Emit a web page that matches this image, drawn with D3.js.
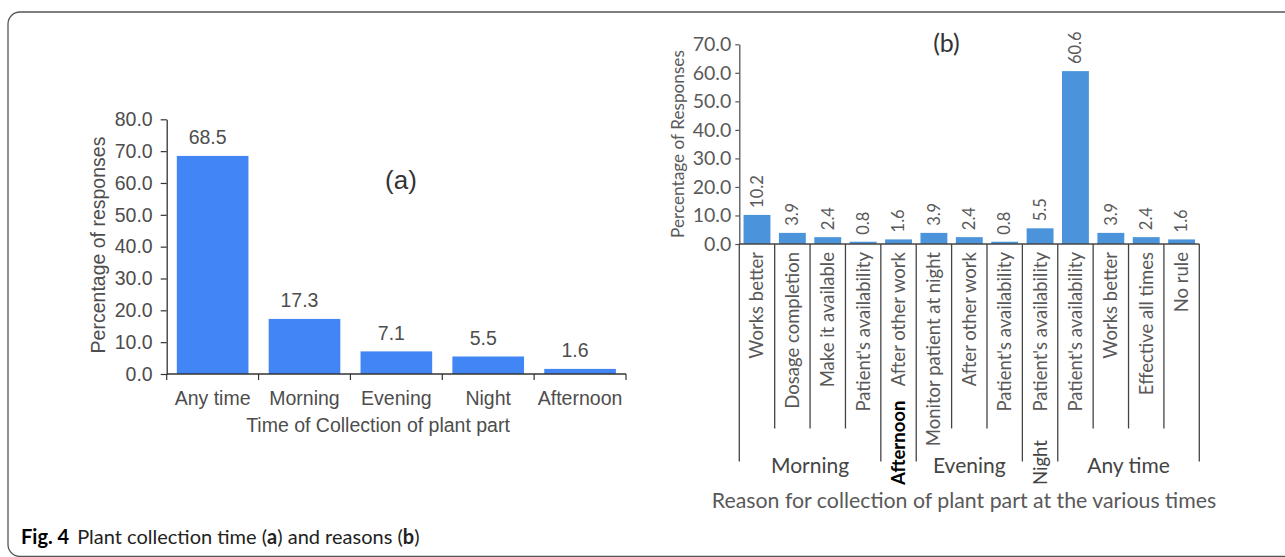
<!DOCTYPE html>
<html>
<head>
<meta charset="utf-8">
<script src="https://cdn.jsdelivr.net/npm/d3@7"></script>
<style>
  html, body { margin: 0; padding: 0; background: #fff; }
  svg { display: block; }
</style>
</head>
<body>
<svg id="chart" width="1285" height="557"></svg>
<script>
// ---------- Data: panel (a) ----------
const timeCategories = ["Any time", "Morning", "Evening", "Night", "Afternoon"];
const timeValues = [68.5, 17.3, 7.1, 5.5, 1.6];
const timeTicks = [0, 10, 20, 30, 40, 50, 60, 70, 80];

// ---------- Data: panel (b) ----------
const reasonLabels = ["Works better", "Dosage completion", "Make it available", "Patient's availability",
  "After other work", "Monitor patient at night", "After other work", "Patient's availability",
  "Patient's availability", "Patient's availability", "Works better", "Effective all times", "No rule"];
const reasonGroups = ["Morning", "Morning", "Morning", "Morning", "Afternoon", "Evening", "Evening", "Evening",
  "Night", "Any time", "Any time", "Any time", "Any time"];
const reasonValues = [10.2, 3.9, 2.4, 0.8, 1.6, 3.9, 2.4, 0.8, 5.5, 60.6, 3.9, 2.4, 1.6];
const reasonTicks = [0, 10, 20, 30, 40, 50, 60, 70];

const svg = d3.select("#chart");

// Frame
svg.append("rect")
  .attr("x", 8).attr("y", 12).attr("width", 1300).attr("height", 544.5)
  .attr("rx", 12).attr("ry", 12)
  .attr("fill", "none").attr("stroke", "#555").attr("stroke-width", 1.3);

// ================= Panel (a) =================
const fA = "'Liberation Sans', Arial, sans-serif";
const colA = "#4d4d4d";
const xA = d3.scaleBand().domain(timeCategories).range([166.7, 626]).paddingInner(0.22).paddingOuter(0.11);
const yA = d3.scaleLinear().domain([0, 80]).range([374, 119.3]);
const gA = svg.append("g");

gA.selectAll("rect.bar").data(timeCategories).join("rect")
  .attr("class", "bar")
  .attr("x", d => xA(d)).attr("width", xA.bandwidth())
  .attr("y", (d, i) => yA(timeValues[i]))
  .attr("height", (d, i) => yA(0) - yA(timeValues[i]))
  .attr("fill", "#4285f4");

gA.selectAll("text.val").data(timeCategories).join("text")
  .attr("class", "val")
  .attr("x", d => xA(d) + xA.bandwidth() / 2 - 5)
  .attr("y", (d, i) => yA(timeValues[i]) - 11.5)
  .attr("text-anchor", "middle")
  .attr("font-family", fA).attr("font-size", 19.5).attr("fill", colA)
  .text((d, i) => timeValues[i].toFixed(1));

const yAxisA = gA.append("g").attr("transform", `translate(${xA.range()[0]},0)`)
  .call(d3.axisLeft(yA).tickValues(timeTicks).tickFormat(d3.format(".1f")).tickSize(6).tickSizeOuter(0).tickPadding(8));
yAxisA.select(".domain").attr("stroke", "#333").attr("stroke-width", 1.3);
yAxisA.selectAll(".tick line").attr("stroke", "#333").attr("stroke-width", 1.2);
yAxisA.selectAll(".tick text").attr("font-family", fA).attr("font-size", 19.5).attr("fill", colA);

const x0A = xA.range()[0], x1A = xA.range()[1];
gA.append("line").attr("x1", x0A).attr("x2", x1A).attr("y1", yA(0)).attr("y2", yA(0))
  .attr("stroke", "#333").attr("stroke-width", 1.5);
gA.selectAll("line.bt").data(d3.range(timeCategories.length + 1)).join("line")
  .attr("class", "bt")
  .attr("x1", i => x0A + i * xA.step()).attr("x2", i => x0A + i * xA.step())
  .attr("y1", yA(0)).attr("y2", yA(0) + 6)
  .attr("stroke", "#333").attr("stroke-width", 1.2);
gA.selectAll("text.cat").data(timeCategories).join("text")
  .attr("class", "cat")
  .attr("x", d => xA(d) + xA.bandwidth() / 2)
  .attr("y", 404.5)
  .attr("text-anchor", "middle")
  .attr("font-family", fA).attr("font-size", 19.5).attr("fill", colA)
  .text(d => d);

gA.append("text").attr("x", 378).attr("y", 432)
  .attr("text-anchor", "middle").attr("font-family", fA).attr("font-size", 19.5).attr("fill", colA)
  .text("Time of Collection of plant part");
gA.append("text").attr("transform", "translate(105,245) rotate(-90)")
  .attr("text-anchor", "middle").attr("font-family", fA).attr("font-size", 19.5).attr("fill", colA)
  .text("Percentage of responses");
gA.append("text").attr("x", 401).attr("y", 189)
  .attr("text-anchor", "middle").attr("font-family", fA).attr("font-size", 26).attr("fill", "#333")
  .text("(a)");

// ================= Panel (b) =================
const fB = "Lato, 'Open Sans', sans-serif";
const colB = "#595959";
const idx = d3.range(reasonLabels.length);
const xB = d3.scaleBand().domain(idx).range([739.3, 1199.3]).paddingInner(0.24).paddingOuter(0.12);
const yB = d3.scaleLinear().domain([0, 70]).range([244, 44.3]);
const gB = svg.append("g");

gB.selectAll("rect.bar").data(idx).join("rect")
  .attr("class", "bar")
  .attr("x", i => xB(i)).attr("width", xB.bandwidth())
  .attr("y", i => yB(reasonValues[i]))
  .attr("height", i => yB(0) - yB(reasonValues[i]))
  .attr("fill", "#4b94db");

gB.selectAll("text.val").data(idx).join("text")
  .attr("class", "val")
  .attr("transform", i => `translate(${xB(i) + xB.bandwidth() / 2},${yB(reasonValues[i]) - 7}) rotate(-90)`)
  .attr("dy", "0.35em")
  .attr("text-anchor", "start")
  .attr("font-family", fB).attr("font-size", 16.5).attr("fill", colB)
  .text(i => reasonValues[i].toFixed(1));

const yAxisB = gB.append("g").attr("transform", `translate(${xB.range()[0]},0)`)
  .call(d3.axisLeft(yB).tickValues(reasonTicks).tickFormat(d3.format(".1f")).tickSize(4).tickSizeOuter(0).tickPadding(4));
yAxisB.select(".domain").attr("stroke", "#555").attr("stroke-width", 1.3);
yAxisB.selectAll(".tick line").attr("stroke", "#555").attr("stroke-width", 1.2);
yAxisB.selectAll(".tick text").attr("font-family", fB).attr("font-size", 19.5).attr("fill", colB);

const x0B = xB.range()[0], x1B = xB.range()[1];
gB.append("line").attr("x1", x0B).attr("x2", x1B).attr("y1", yB(0)).attr("y2", yB(0))
  .attr("stroke", "#444").attr("stroke-width", 1.5);

const bounds = d3.range(reasonLabels.length + 1);
const isGroupEdge = i => i === 0 || i === reasonLabels.length || reasonGroups[i] !== reasonGroups[i - 1];
gB.selectAll("line.sep").data(bounds).join("line")
  .attr("class", "sep")
  .attr("x1", i => x0B + i * xB.step()).attr("x2", i => x0B + i * xB.step())
  .attr("y1", yB(0)).attr("y2", i => isGroupEdge(i) ? 461.5 : 428.5)
  .attr("stroke", "#444").attr("stroke-width", 1.3);

gB.selectAll("text.cat").data(idx).join("text")
  .attr("class", "cat")
  .attr("transform", i => `translate(${xB(i) + xB.bandwidth() / 2},252) rotate(-90)`)
  .attr("dy", "0.35em")
  .attr("text-anchor", "end")
  .attr("font-family", fB).attr("font-size", 18.5).attr("fill", colB)
  .text(i => reasonLabels[i]);

const groupNames = Array.from(new Set(reasonGroups));
const groupInfo = groupNames.map(g => {
  const members = idx.filter(i => reasonGroups[i] === g);
  const first = xB(members[0]) + xB.bandwidth() / 2;
  const last = xB(members[members.length - 1]) + xB.bandwidth() / 2;
  return { name: g, n: members.length, cx: (first + last) / 2 };
});
gB.selectAll("text.grp").data(groupInfo).join("text")
  .attr("class", "grp")
  .attr("transform", d => d.n > 1 ? `translate(${d.cx},473)` : `translate(${d.cx},485) rotate(-90)`)
  .attr("dy", d => d.n > 1 ? 0 : "0.35em")
  .attr("text-anchor", d => d.n > 1 ? "middle" : "start")
  .attr("font-family", fB)
  .attr("font-size", d => d.n > 1 ? 21 : 18.5)
  .attr("font-weight", d => d.name === "Afternoon" ? "bold" : "normal")
  .attr("fill", d => d.name === "Afternoon" ? "#000" : "#444")
  .text(d => d.name);

gB.append("text").attr("x", 964).attr("y", 508)
  .attr("text-anchor", "middle").attr("font-family", fB).attr("font-size", 21.3).attr("fill", colB)
  .text("Reason for collection of plant part at the various times");
gB.append("text").attr("transform", "translate(684,144) rotate(-90)")
  .attr("text-anchor", "middle").attr("font-family", fB).attr("font-size", 17.2).attr("fill", colB)
  .text("Percentage of Responses");
gB.append("text").attr("x", 946.5).attr("y", 52)
  .attr("text-anchor", "middle").attr("font-family", fB).attr("font-size", 25).attr("fill", "#333")
  .text("(b)");

// ================= Caption =================
const cap = svg.append("text").attr("x", 21).attr("y", 544)
  .attr("font-family", "Lato, 'Open Sans', sans-serif").attr("font-size", 20).attr("fill", "#222");
cap.append("tspan").attr("font-weight", "bold").attr("fill", "#000").text("Fig. 4");
cap.append("tspan").attr("dx", 8).text("Plant collection time (");
cap.append("tspan").attr("font-weight", "bold").text("a");
cap.append("tspan").text(") and reasons (");
cap.append("tspan").attr("font-weight", "bold").text("b");
cap.append("tspan").text(")");
</script>
</body>
</html>
